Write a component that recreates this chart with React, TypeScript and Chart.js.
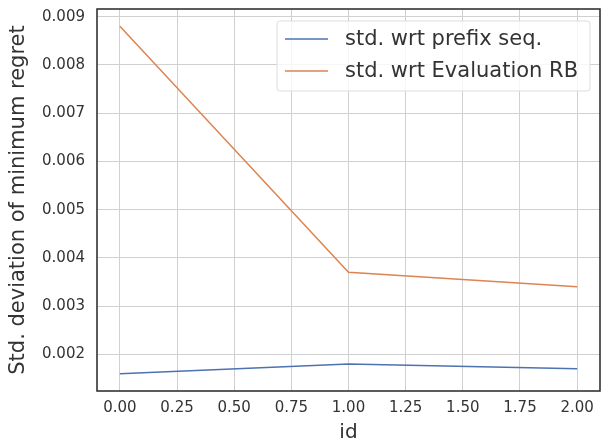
import React, { useEffect, useRef } from "react";
import { Chart, registerables } from "chart.js";

Chart.register(...registerables);

const xValues = [0, 1, 2];
const prefixSeq = [0.0016, 0.0018, 0.0017];
const evalRB = [0.0088, 0.0037, 0.0034];
const xTicks = [0, 0.25, 0.5, 0.75, 1.0, 1.25, 1.5, 1.75, 2.0];
const yTicks = [0.002, 0.003, 0.004, 0.005, 0.006, 0.007, 0.008, 0.009];
const seriesNames = ["std. wrt prefix seq.", "std. wrt Evaluation RB"];
const colors = ["#4c72b0", "#dd8452"];

const FONT = "'DejaVu Sans', sans-serif";
const TEXT = "#333333";

const frameAndLegend = {
  id: "frameAndLegend",
  afterDraw(chart: any) {
    const { ctx, chartArea } = chart;
    ctx.save();
    ctx.strokeStyle = "#262626";
    ctx.lineWidth = 1.5;
    ctx.strokeRect(chartArea.left, chartArea.top, chartArea.right - chartArea.left, chartArea.bottom - chartArea.top);
    const bx = chartArea.right - 323;
    const by = chartArea.top + 12;
    const bw = 313;
    const bh = 70;
    ctx.beginPath();
    const r = 3;
    ctx.moveTo(bx + r, by);
    ctx.arcTo(bx + bw, by, bx + bw, by + bh, r);
    ctx.arcTo(bx + bw, by + bh, bx, by + bh, r);
    ctx.arcTo(bx, by + bh, bx, by, r);
    ctx.arcTo(bx, by, bx + bw, by, r);
    ctx.closePath();
    ctx.fillStyle = "rgba(255,255,255,0.8)";
    ctx.fill();
    ctx.strokeStyle = "#dddddd";
    ctx.lineWidth = 1;
    ctx.stroke();
    ctx.font = `21px ${FONT}`;
    ctx.textBaseline = "middle";
    ctx.fillStyle = TEXT;
    seriesNames.forEach((name, i) => {
      const y = by + 18 + i * 32;
      ctx.strokeStyle = colors[i];
      ctx.lineWidth = 1.5;
      ctx.beginPath();
      ctx.moveTo(bx + 8, y);
      ctx.lineTo(bx + 51, y);
      ctx.stroke();
      ctx.fillText(name, bx + 68, y + 1);
    });
    ctx.restore();
  },
};

export default function App() {
  const ref = useRef<HTMLCanvasElement>(null);
  useEffect(() => {
    document.body.style.margin = "0";
    const chart = new Chart(ref.current!, {
      type: "line",
      data: {
        datasets: seriesNames.map((name, i) => ({
          label: name,
          data: xValues.map((x, j) => ({ x, y: (i === 0 ? prefixSeq : evalRB)[j] })),
          borderColor: colors[i],
          backgroundColor: colors[i],
          borderWidth: 1.5,
          pointRadius: 0,
          tension: 0,
        })),
      },
      options: {
        responsive: false,
        animation: false,
        layout: { padding: { left: 0, right: 5, top: 9, bottom: 0 } },
        plugins: { legend: { display: false }, tooltip: { enabled: false } },
        scales: {
          x: {
            type: "linear",
            min: -0.1,
            max: 2.1,
            afterBuildTicks: (s: any) => {
              s.ticks = xTicks.map((v) => ({ value: v }));
            },
            afterFit: (s: any) => {
              s.height = 54;
              s.paddingLeft = 0;
              s.paddingRight = 0;
            },
            ticks: {
              callback: (v: any) => Number(v).toFixed(2),
              font: { family: FONT, size: 15 },
              color: TEXT,
              maxRotation: 0,
              padding: 8,
            },
            grid: { color: "#d0d0d0", drawTicks: false, lineWidth: 1 },
            border: { display: false },
            title: {
              display: true,
              text: "id",
              font: { family: FONT, size: 20 },
              color: TEXT,
              padding: { top: 0, bottom: 0 },
            },
          },
          y: {
            type: "linear",
            min: 0.00124,
            max: 0.00916,
            afterBuildTicks: (s: any) => {
              s.ticks = yTicks.map((v) => ({ value: v }));
            },
            afterFit: (s: any) => {
              s.width = 97;
              s.paddingTop = 0;
              s.paddingBottom = 0;
            },
            ticks: {
              callback: (v: any) => Number(v).toFixed(3),
              font: { family: FONT, size: 15 },
              color: TEXT,
              padding: 12,
            },
            grid: { color: "#d0d0d0", drawTicks: false, lineWidth: 1 },
            border: { display: false },
            title: {
              display: true,
              text: "Std. deviation of minimum regret",
              font: { family: FONT, size: 21 },
              color: TEXT,
              padding: { top: 6, bottom: 0 },
            },
          },
        },
      },
      plugins: [frameAndLegend],
    });
    return () => chart.destroy();
  }, []);
  return <canvas ref={ref} width={605} height={445} style={{ display: "block" }} />;
}
